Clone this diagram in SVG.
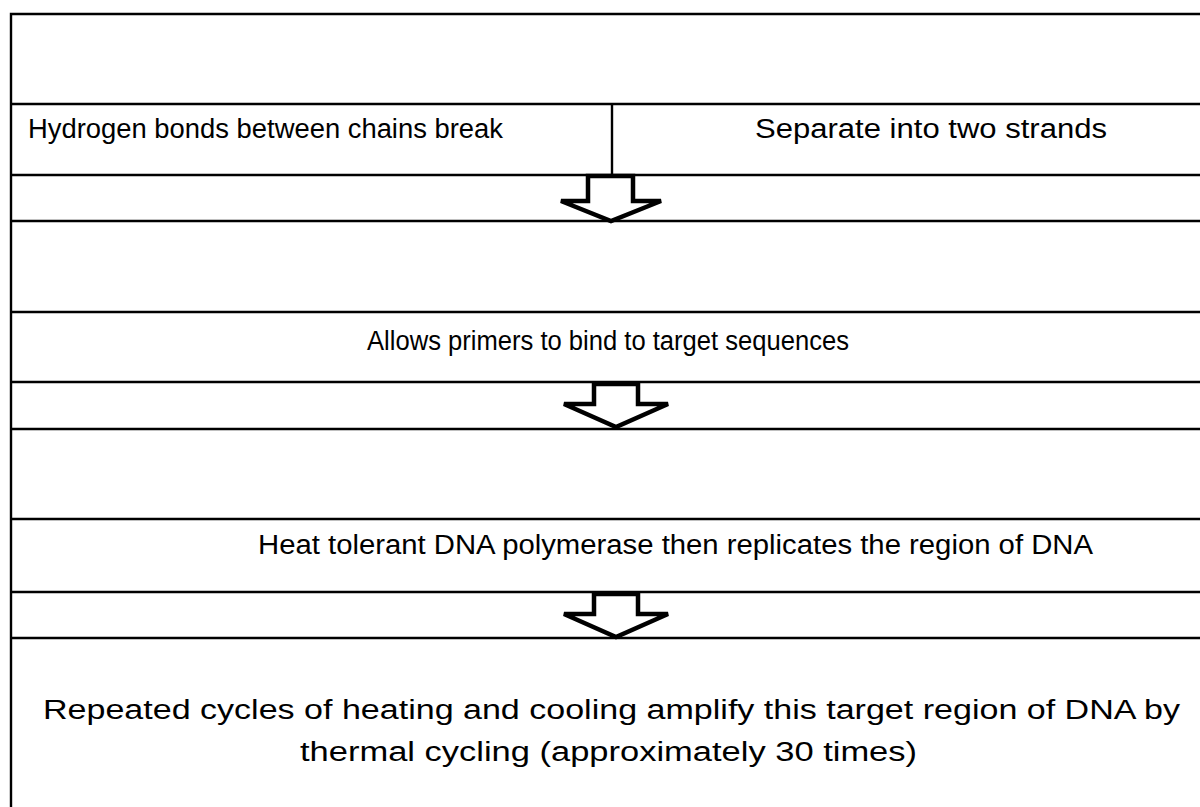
<svg xmlns="http://www.w3.org/2000/svg" width="1200" height="807" viewBox="0 0 1200 807">
  <style>
    .rule { stroke: #000; stroke-width: 2.4; fill: none; }
    .lbl { font-family: "Comic Sans MS", "Liberation Sans", sans-serif; font-size: 27px; fill: #000; }
    .arrow { fill: #fff; stroke: #000; stroke-width: 4.5; stroke-linejoin: miter; }
  </style>
  <rect width="1200" height="807" fill="#fff"/>

  <!-- frame and row rules -->
  <g id="frame" class="rule">
    <path d="M11,807 V14 H1200"/>
    <path d="M11,104 H1200 M11,175 H1200 M11,221 H1200 M11,312 H1200 M11,382 H1200 M11,429 H1200 M11,519 H1200 M11,592 H1200 M11,638 H1200"/>
  </g>

  <g id="step-denature">
    <line class="rule" x1="612" y1="104" x2="612" y2="175"/>
    <text class="lbl" x="28" y="138" textLength="475" lengthAdjust="spacingAndGlyphs">Hydrogen bonds between chains break</text>
    <text class="lbl" x="755" y="138" textLength="352" lengthAdjust="spacingAndGlyphs">Separate into two strands</text>
  </g>

  <g id="step-anneal">
    <text class="lbl" x="367" y="350" textLength="482" lengthAdjust="spacingAndGlyphs">Allows primers to bind to target sequences</text>
  </g>

  <g id="step-extend">
    <text class="lbl" x="258" y="554" textLength="835" lengthAdjust="spacingAndGlyphs">Heat tolerant DNA polymerase then replicates the region of DNA</text>
  </g>

  <g id="step-cycle">
    <text class="lbl" x="43" y="719" textLength="1137" lengthAdjust="spacingAndGlyphs">Repeated cycles of heating and cooling amplify this target region of DNA by</text>
    <text class="lbl" x="300" y="761" textLength="617" lengthAdjust="spacingAndGlyphs">thermal cycling (approximately 30 times)</text>
  </g>

  <!-- block arrows between steps -->
  <g id="connectors">
    <path class="arrow" d="M588,176 H633 V201 H661 L611,221 L561,201 H588 Z"/>
    <path class="arrow" d="M594,384 H638 V404 H668 L616,427 L564,404 H594 Z"/>
    <path class="arrow" d="M594,594 H638 V614 H668 L616,637 L564,614 H594 Z"/>
  </g>
</svg>
